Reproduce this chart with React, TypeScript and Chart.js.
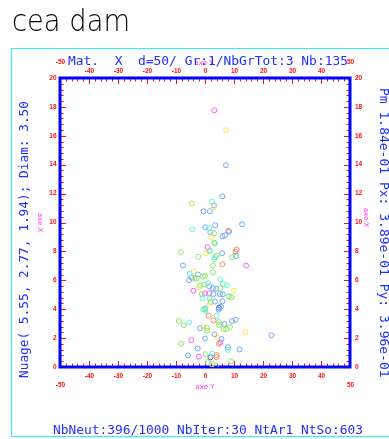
import { useEffect, useRef } from "react";
import { Chart, registerables } from "chart.js";

Chart.register(...registerables);

const W = 389;
const H = 439;

// point cloud, grouped by colour: [x (axe Y), y (axe X)]
const bluePts: [number, number][] = [
  [7.2, 13.96], [6.0, 11.81], [3.1, 11.18], [-0.5, 10.78], [1.7, 10.78], [12.8, 9.88],
  [3.5, 9.81], [0.1, 9.67], [8.3, 9.36], [1.8, 9.32], [6.9, 9.11], [6.0, 9.05],
  [5.9, 7.88], [10.7, 7.68], [-7.6, 7.02], [-2.4, 6.4], [-4.7, 6.19], [-5.5, 6.01],
  [1.5, 5.58], [2.7, 5.45], [3.9, 5.42], [2.9, 5.05], [5.1, 5.05], [6.1, 5.03],
  [3.4, 4.53], [6.0, 4.55], [0.1, 4.06], [5.5, 4.17], [4.7, 3.97], [10.6, 3.27],
  [9.3, 3.18], [6.7, 2.98], [-1.7, 2.68], [22.9, 2.19], [3.3, 2.26], [0.0, 1.97],
  [5.7, 1.94], [7.9, 1.38], [-2.5, 1.29], [11.9, 1.22], [-5.9, 0.8],
];
const navyPts: [number, number][] = [[4.8, 4.1], [1.9, 0.67]];
const cyanPts: [number, number][] = [
  [2.4, 11.45], [1.5, 9.6], [-4.3, 9.53], [3.4, 8.56], [1.7, 8.05], [3.4, 7.6],
  [3.2, 7.47], [-5.3, 6.46], [5.3, 6.07], [1.1, 5.81], [6.2, 5.74], [7.6, 5.65],
  [8.2, 4.89], [-0.9, 4.75], [1.6, 4.75], [0.1, 3.9], [0.1, 4.02], [4.0, 3.55],
  [-5.5, 3.09], [7.9, 1.18], [2.5, 0.92],
];
const greenPts: [number, number][] = [
  [3.1, 9.25], [3.2, 8.6], [1.5, 8.03], [-8.3, 7.94], [-2.3, 7.63], [4.0, 7.7],
  [9.4, 7.59], [2.7, 7.02], [2.7, 6.54], [0.0, 6.32], [-0.7, 6.26], [-3.7, 6.14],
  [-2.9, 6.14], [-0.3, 5.7], [-1.7, 5.63], [5.3, 5.45], [-1.1, 5.05], [9.1, 4.82],
  [8.3, 4.88], [2.0, 4.5], [-0.6, 3.99], [-9.0, 3.18], [-7.3, 2.89], [4.8, 2.91],
  [4.8, 3.11], [0.7, 2.51], [0.6, 2.7], [6.4, 2.63], [7.3, 2.63], [8.6, 2.77],
  [-8.2, 1.61], [0.2, 0.88], [9.0, 0.39], [0.9, 0.33], [2.4, 0.19], [3.8, 0.09],
];
const limePts: [number, number][] = [[-4.6, 11.31]];
const yellowPts: [number, number][] = [
  [7.3, 16.38], [2.9, 11.05], [2.2, 8.98], [0.4, 7.87], [-3.9, 6.62], [-2.1, 5.52],
  [9.9, 5.29], [1.6, 4.36], [-0.6, 2.75], [13.9, 2.4], [4.0, 2.1],
];
const orangePts: [number, number][] = [
  [8.0, 9.43], [10.9, 8.13], [10.5, 7.98], [6.0, 7.11], [1.2, 3.55], [2.9, 3.22],
  [4.8, 1.61], [4.0, 0.83], [4.0, 0.67],
];
const magentaPts: [number, number][] = [
  [3.2, 17.76], [0.9, 8.3], [14.2, 7.02], [-4.0, 5.28], [0.0, 5.1], [1.5, 5.1],
  [-4.7, 1.85], [5.3, 1.71], [-2.1, 0.71],
];

const xTickLabels = [-50, -40, -30, -20, -10, 0, 10, 20, 30, 40, 50];
const yTickLabels = [0, 2, 4, 6, 8, 10, 12, 14, 16, 18, 20];

const logoText = "cea dam";
const titleText = "Mat.  X  d=50/ Gr:1/NbGrTot:3 Nb:135";
const footerText = "NbNeut:396/1000 NbIter:30 NtAr1 NtSo:603";
const leftText = "Nuage( 5.55, 2.77, 1.94); Diam: 3.50";
const rightText = "Pm 1.84e-01 Px: 3.89e-01 Py: 3.96e-01";
const xAxisName = "axe Y";
const yAxisName = "axe X";

const series = [
  { pts: greenPts, color: "#8fe86a" },
  { pts: limePts, color: "#b5e84a" },
  { pts: cyanPts, color: "#5ff5d5" },
  { pts: yellowPts, color: "#ffe45a" },
  { pts: bluePts, color: "#6ea8ff" },
  { pts: navyPts, color: "#4a5fe0" },
  { pts: orangePts, color: "#ff8a5a" },
  { pts: magentaPts, color: "#ff5cff" },
];

const MONO = "'DejaVu Sans Mono', 'Liberation Mono', monospace";
const BLUE = "#1f2fff";
const RED = "#ff1010";
const MAG = "#ff30ff";

const decor = {
  id: "decor",
  beforeDraw(chart: any) {
    const ctx = chart.ctx as CanvasRenderingContext2D;
    ctx.save();
    ctx.fillStyle = "#ffffff";
    ctx.fillRect(0, 0, W, H);
    // logo
    ctx.fillStyle = "#000000";
    ctx.font = "200 31px 'DejaVu Sans'";
    ctx.textAlign = "left";
    ctx.textBaseline = "alphabetic";
    ctx.fillText(logoText, 12, 31, 118);
    // cyan frame
    ctx.strokeStyle = "#30f0f0";
    ctx.lineWidth = 1;
    ctx.strokeRect(11.5, 48.5, 420, 388);
    ctx.restore();
  },
  beforeDatasetsDraw(chart: any) {
    const ctx = chart.ctx as CanvasRenderingContext2D;
    const { left, right, top, bottom } = chart.chartArea;
    const xs = chart.scales.x;
    const ys = chart.scales.y;
    ctx.save();
    // minor / major ticks
    ctx.strokeStyle = RED;
    ctx.lineWidth = 1;
    ctx.beginPath();
    for (let i = 0; i <= 50; i++) {
      const v = -50 + i * 2;
      const px = Math.round(xs.getPixelForValue(v)) + 0.5;
      const len = v % 10 === 0 ? 6 : 3.5;
      ctx.moveTo(px, bottom);
      ctx.lineTo(px, bottom - len);
      ctx.moveTo(px, top);
      ctx.lineTo(px, top + len);
    }
    for (let i = 0; i <= 50; i++) {
      const v = i * 0.4;
      const py = Math.round(ys.getPixelForValue(v)) + 0.5;
      const len = i % 5 === 0 ? 6 : 3.5;
      ctx.moveTo(left, py);
      ctx.lineTo(left + len, py);
      ctx.moveTo(right, py);
      ctx.lineTo(right - len, py);
    }
    ctx.stroke();
    // blue axes frame
    ctx.strokeStyle = "#0000ff";
    ctx.lineWidth = 3;
    ctx.strokeRect(left, top, right - left, bottom - top);

    // tick labels
    ctx.fillStyle = RED;
    ctx.font = "bold 6.5px 'Liberation Sans', Arial, sans-serif";
    ctx.textAlign = "center";
    ctx.textBaseline = "middle";
    for (const v of xTickLabels) {
      const px = xs.getPixelForValue(v);
      const edge = v === -50 || v === 50;
      ctx.fillText(String(v), px + 0.5, edge ? bottom + 18.5 : bottom + 9.5);
      ctx.fillText(String(v), px + 0.5, edge ? top - 15.5 : top - 6.5);
    }
    for (const v of yTickLabels) {
      const py = ys.getPixelForValue(v);
      ctx.textAlign = "right";
      ctx.fillText(String(v), left - 3.5, py);
      ctx.textAlign = "left";
      ctx.fillText(String(v), right + 5, py);
    }

    // axis names
    ctx.fillStyle = MAG;
    ctx.font = "7px 'DejaVu Sans', sans-serif";
    ctx.textAlign = "center";
    ctx.textBaseline = "middle";
    const cx = (left + right) / 2;
    ctx.fillText(xAxisName, cx, bottom + 20);
    ctx.fillText(xAxisName, cx - 1, top - 14.5);
    const cy = (top + bottom) / 2;
    ctx.save();
    ctx.translate(left - 20, cy);
    ctx.rotate(Math.PI / 2);
    ctx.fillText(yAxisName, 0, 0);
    ctx.restore();
    ctx.save();
    ctx.translate(right + 16, cy - 5);
    ctx.rotate(Math.PI / 2);
    ctx.fillText(yAxisName, 0, 0);
    ctx.restore();

    // blue texts
    ctx.fillStyle = BLUE;
    ctx.font = "13px " + MONO;
    ctx.textBaseline = "alphabetic";
    ctx.textAlign = "left";
    ctx.fillText(titleText, 68, 65, 280);
    ctx.fillText(footerText, 53, 433.5, 310);
    ctx.save();
    ctx.translate(28, 378);
    ctx.rotate(-Math.PI / 2);
    ctx.fillText(leftText, 0, 0, 277);
    ctx.restore();
    ctx.save();
    ctx.translate(380, 88);
    ctx.rotate(Math.PI / 2);
    ctx.fillText(rightText, 0, 0);
    ctx.restore();
    ctx.restore();
  },
};

export default function App() {
  const ref = useRef<HTMLCanvasElement | null>(null);
  useEffect(() => {
    if (!ref.current) return;
    const chart = new Chart(ref.current, {
      type: "scatter",
      data: {
        datasets: series.map((s, i) => ({
          label: "s" + i,
          data: s.pts.map(([x, y]) => ({ x, y })),
          borderColor: s.color,
          backgroundColor: "rgba(0,0,0,0)",
          borderWidth: 1,
          pointRadius: 2.5,
          pointHoverRadius: 2.5,
        })),
      },
      options: {
        responsive: false,
        maintainAspectRatio: false,
        animation: false,
        events: [],
        layout: { padding: { left: 60, right: 39, top: 78, bottom: 72 } },
        scales: {
          x: { type: "linear", min: -50, max: 50, display: false },
          y: { type: "linear", min: 0, max: 20, display: false },
        },
        plugins: { legend: { display: false }, tooltip: { enabled: false } },
      },
      plugins: [decor],
    });
    return () => chart.destroy();
  }, []);
  return (
    <div style={{ position: "fixed", left: 0, top: 0, width: W, height: H }}>
      <canvas ref={ref} width={W} height={H} style={{ width: W, height: H, display: "block" }} />
    </div>
  );
}
